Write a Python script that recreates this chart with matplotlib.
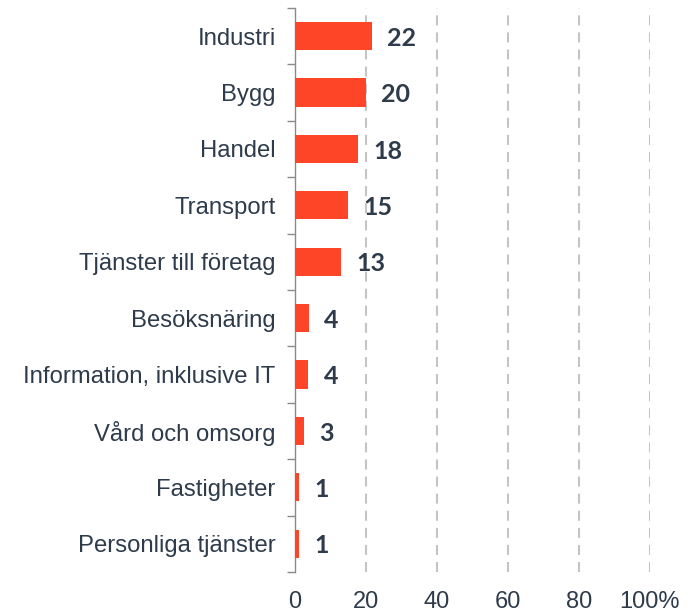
import numpy as np
import matplotlib.pyplot as plt

# Andel per bransch (%)
categories = ['Industri', 'Bygg', 'Handel', 'Transport', 'Tjänster till företag',
              'Besöksnäring', 'Information, inklusive IT', 'Vård och omsorg',
              'Fastigheter', 'Personliga tjänster']
values = [21.7, 19.9, 17.8, 15.0, 12.9, 3.9, 3.8, 2.6, 1.2, 1.2]
labels = ['22', '20', '18', '15', '13', '4', '4', '3', '1', '1']
xticks = [0, 20, 40, 60, 80, 100]
xticklabels = ['0', '20', '40', '60', '80', '100%']

text_color = '#2d3b4b'
bar_color = '#ff4527'

fig = plt.figure(figsize=(6.98, 6.16), dpi=100)
ax = fig.add_axes([295 / 698, 1 - 572 / 616, 355 / 698, 564 / 616])

y = np.arange(len(categories))
ax.barh(y, values, height=0.5, color=bar_color, zorder=3)

for yi, v, lab in zip(y, values, labels):
    ax.annotate(lab, (v, yi), xytext=(11, -1.5), textcoords='offset points',
                ha='left', va='center', fontsize=18, fontweight='bold',
                family=['Lato', 'DejaVu Sans'], color=text_color)

ax.set_xlim(0, 100)
ax.set_ylim(len(categories) - 0.5, -0.5)

# dashed gridlines
for xt in xticks[1:]:
    ax.axvline(xt, color='#c4c4c4', lw=1.5, dashes=(4.8, 3.4), zorder=1)

ax.set_xticks(xticks)
ax.set_xticklabels(xticklabels, family='Liberation Sans', fontsize=17, color=text_color)
ax.tick_params(axis='x', length=0, pad=14)

ax.set_yticks(y)
ax.set_yticklabels(categories, family='Liberation Sans', fontsize=17.2, color=text_color)
ax.tick_params(axis='y', which='major', length=0, pad=14)
ax.set_yticks(np.arange(-0.5, len(categories), 1), minor=True)
ax.tick_params(axis='y', which='minor', length=6, color='#8a8a8a', width=1)

for s in ['top', 'right', 'bottom']:
    ax.spines[s].set_visible(False)
ax.spines['left'].set_color('#8a8a8a')
ax.spines['left'].set_linewidth(1)

fig.savefig('out.png', dpi=100)
